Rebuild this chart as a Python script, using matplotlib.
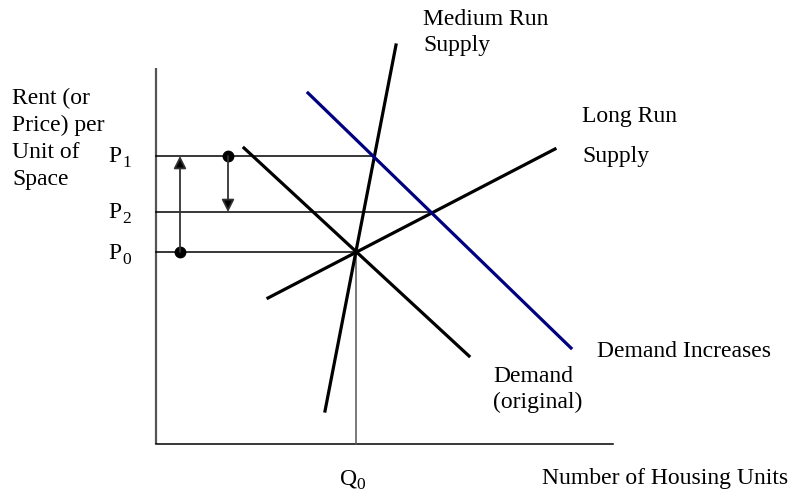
import matplotlib
matplotlib.use("Agg")
import matplotlib.pyplot as plt

plt.rcParams['font.family'] = ['Liberation Serif', 'DejaVu Serif']

# Diagram geometry (in image pixel units)
axis_origin = (156, 444)
axis_top = 68
axis_right = 613
q0 = 356
price_levels = {"P1": 156, "P2": 212, "P0": 252}
price_line_ends = {"P1": 375, "P2": 432, "P0": 356}

demand_original = ([244, 469], [148, 356])
medium_run_supply = ([325, 396], [411, 45])
long_run_supply = ([268, 555], [298, 149])
demand_increases = ([308, 571], [93, 348])

arrow_up = (180, 252, 156)    # x, from y, to y
arrow_down = (228, 156, 212)

fig = plt.figure(figsize=(7.92, 4.96), dpi=100)
ax = fig.add_axes([0, 0, 1, 1])
ax.set_xlim(0, 792)
ax.set_ylim(496, 0)
ax.axis('off')

# Axes lines
ax.plot([axis_origin[0], axis_origin[0]], [axis_top, axis_origin[1]], color='#555555', lw=1.6, solid_capstyle='butt')
ax.plot([axis_origin[0], axis_right], [axis_origin[1], axis_origin[1]], color='black', lw=1.1)
ax.plot([q0, q0], [price_levels["P0"], axis_origin[1]], color='#555555', lw=1.1)

# Price lines
for k, y in price_levels.items():
    ax.plot([axis_origin[0], price_line_ends[k]], [y, y], color='black', lw=1.1)

# Curves
ax.plot(*demand_original, color='black', lw=2.3)
ax.plot(*medium_run_supply, color='black', lw=2.3)
ax.plot(*long_run_supply, color='black', lw=2.3)
ax.plot(*demand_increases, color='#000080', lw=2.3)

# Arrows and dots
for (x, y0, y1) in [arrow_up, arrow_down]:
    ax.annotate('', xy=(x, y1), xytext=(x, y0),
                arrowprops=dict(arrowstyle='-|>,head_length=0.75,head_width=0.38',
                                ec='#333333', fc='black', lw=1.3,
                                shrinkA=0, shrinkB=0))
    ax.plot([x], [y0], 'o', color='black', ms=7.5)

fs = 17
sub_fs = 12.5

def sub_label(x, yb, main, sub, sub_dx):
    ax.text(x, yb, main, fontsize=fs, va='baseline')
    ax.text(x + sub_dx, yb + 5, sub, fontsize=sub_fs, va='baseline')

# Price / quantity labels
sub_label(108, 162, "P", "1", 14)
sub_label(108, 218, "P", "2", 14)
sub_label(108, 259, "P", "0", 14)
sub_label(340, 484, "Q", "0", 16)

# Y-axis label
for txt, yb in [("Rent (or", 104), ("Price) per", 131), ("Unit of", 158), ("Space", 185)]:
    ax.text(12, yb, txt, fontsize=fs, va='baseline')

ax.text(423, 25, "Medium Run", fontsize=fs, va='baseline')
ax.text(423, 51, "Supply", fontsize=fs, va='baseline')
ax.text(582, 122, "Long Run", fontsize=fs, va='baseline')
ax.text(582, 162, "Supply", fontsize=fs, va='baseline')
ax.text(597, 357, "Demand Increases", fontsize=fs, va='baseline')
ax.text(493, 382, "Demand", fontsize=fs, va='baseline')
ax.text(493, 408, "(original)", fontsize=fs, va='baseline')
ax.text(542, 484, "Number of Housing Units", fontsize=fs, va='baseline')

fig.savefig('out.png', dpi=100)
